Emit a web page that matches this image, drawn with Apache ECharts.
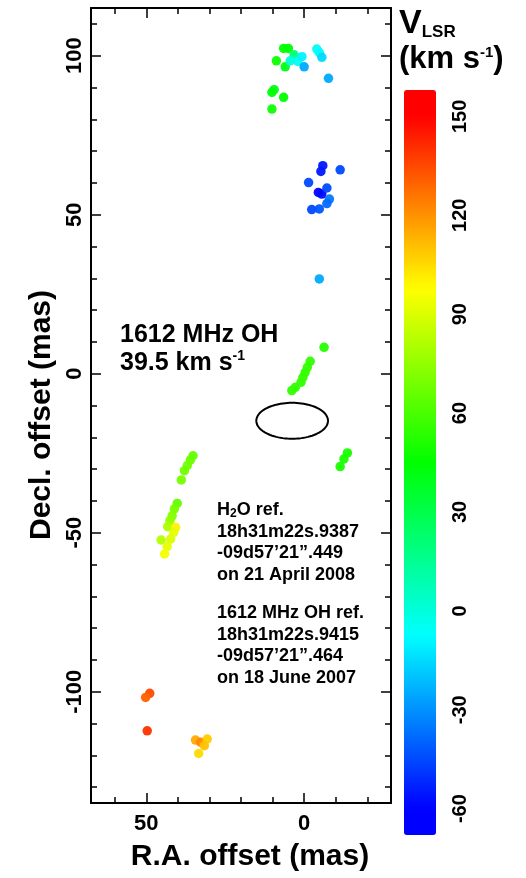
<!DOCTYPE html>
<html><head><meta charset="utf-8">
<script src="https://cdn.jsdelivr.net/npm/echarts@6/dist/echarts.min.js"></script>
<style>html,body{margin:0;padding:0;background:#fff}#c{width:526px;height:878px}</style>
</head><body><div id="c"></div>
<script>
// R.A. offset (mas), Decl. offset (mas), V_LSR (km/s)
const raOffset = [6.5, 5.0, 8.8, 6.0, 3.2, 4.4, 2.0, 0.7, 0.0, -4.0, -4.8, -5.6, -7.7, 10.2, 9.5, 6.5, 10.2,
  -5.9, -5.3, -11.4, -1.4, -4.5, -5.6, -7.2, -8.0, -7.2, -2.4, -4.8, -4.8,
  -6.3, -1.9, -1.0, -0.3, 0.4, 1.0, 2.8, 3.9, -13.7, -12.6, -11.4,
  35.2, 36.0, 37.0, 37.9, 38.9, 40.2, 41.1, 41.8, 42.5, 43.2, 40.7, 41.3, 45.3, 42.3, 43.4, 44.2,
  48.9, 50.2, 49.7, 34.4, 32.8, 30.7, 31.6, 33.4];
const declOffset = [102.3, 102.3, 98.4, 96.5, 100.3, 98.4, 98.2, 99.7, 96.5, 102.1, 101.0, 99.5, 92.9, 88.5, 89.3, 86.9, 83.2,
  65.4, 63.6, 64.1, 60.1, 57.0, 56.5, 58.4, 54.9, 53.5, 51.6, 51.8, 29.8,
  8.3, 3.9, 2.0, 0.4, -1.2, -2.7, -4.3, -5.3, -24.9, -26.8, -29.2,
  -25.8, -27.1, -28.9, -30.5, -33.4, -40.8, -42.5, -44.7, -46.2, -48.1, -48.3, -49.9, -52.3, -52.0, -54.4, -56.7,
  -100.5, -101.8, -112.3, -115.2, -115.9, -114.9, -117.0, -119.4];
const vlsr = [45, 45, 48, 40, 20, 0, -5, -10, -25, -5, -8, -15, -25, 45, 42, 45, 48,
  -55, -55, -45, -45, -60, -58, -45, -35, -38, -45, -42, -25,
  52, 55, 55, 55, 55, 55, 55, 55, 50, 50, 50,
  65, 67, 68, 68, 70, 65, 70, 72, 75, 80, 100, 92, 82, 90, 92, 95,
  135, 130, 140, 115, 122, 108, 110, 105];

const xMajorTicks = [0, 50];
const xMinorTicks = [-20, -10, 10, 20, 30, 40, 60];
const yMajorTicks = [-100, -50, 0, 50, 100];
const yMinorTicks = [-130, -120, -110, -90, -80, -70, -60, -40, -30, -20, -10, 10, 20, 30, 40, 60, 70, 80, 90, 110];
const colorbarTicks = [-60, -30, 0, 30, 60, 90, 120, 150];
const beamCenter = [3.8, -14.8];
const beamAxes = [22.7, 11.3];

const FONT = "'Liberation Sans', Arial, Helvetica, sans-serif";

function hsvToHex(h) {
  const c = 1, x = 1 - Math.abs((h / 60) % 2 - 1);
  let r, g, b;
  if (h < 60) [r, g, b] = [c, x, 0];
  else if (h < 120) [r, g, b] = [x, c, 0];
  else if (h < 180) [r, g, b] = [0, c, x];
  else [r, g, b] = [0, x, c];
  const f = v => Math.round(v * 255).toString(16).padStart(2, '0');
  return '#' + f(r) + f(g) + f(b);
}
const VMIN = -68, VMAX = 158;
const rainbow = [];
for (let i = 0; i <= 60; i++) {
  const v = VMIN + (VMAX - VMIN) * i / 60;
  const h = Math.max(0, Math.min(239.9, (150 - v) / 210 * 240));
  rainbow.push(hsvToHex(h));
}

const points = raOffset.map((x, i) => [x, declOffset[i], vlsr[i]]);

const tickLabel = { fontFamily: FONT, fontWeight: 'bold', fontSize: 22, color: '#000' };
const lineStyle = { color: '#000', width: 2 };

function xAxisDef(pos, major, showLabel) {
  return {
    type: 'value', gridIndex: 0, position: pos, min: -27.5, max: 67.5, inverse: true,
    splitLine: { show: false },
    axisLine: { show: major, onZero: false, lineStyle },
    axisTick: { show: true, inside: true, length: major ? 10 : 6, customValues: major ? xMajorTicks : xMinorTicks, lineStyle: { color: '#000', width: 1.5 } },
    axisLabel: { show: showLabel, customValues: xMajorTicks, margin: 10, ...tickLabel }
  };
}
function yAxisDef(pos, major, showLabel) {
  return {
    type: 'value', gridIndex: 0, position: pos, min: -135, max: 115,
    splitLine: { show: false },
    axisLine: { show: major, onZero: false, lineStyle },
    axisTick: { show: true, inside: true, length: major ? 10 : 6, customValues: major ? yMajorTicks : yMinorTicks, lineStyle: { color: '#000', width: 1.5 } },
    axisLabel: { show: showLabel, customValues: yMajorTicks, rotate: 90, margin: 5, ...tickLabel }
  };
}

const chart = echarts.init(document.getElementById('c'), null, { renderer: 'canvas' });
chart.setOption({
  backgroundColor: '#fff',
  animation: false,
  grid: [
    { left: 91, top: 8, width: 300, height: 795 },
    { left: 404, top: 90, width: 32, height: 745 }
  ],
  xAxis: [
    xAxisDef('bottom', true, true),
    xAxisDef('bottom', false, false),
    xAxisDef('top', true, false),
    xAxisDef('top', false, false),
    { type: 'value', gridIndex: 1, min: 0, max: 1, show: false }
  ],
  yAxis: [
    yAxisDef('left', true, true),
    yAxisDef('left', false, false),
    yAxisDef('right', true, false),
    yAxisDef('right', false, false),
    {
      type: 'value', gridIndex: 1, position: 'right', min: VMIN, max: VMAX,
      splitLine: { show: false }, axisLine: { show: false }, axisTick: { show: false },
      axisLabel: { customValues: colorbarTicks, rotate: 90, margin: 14, fontFamily: FONT, fontWeight: 'bold', fontSize: 20, color: '#000' }
    }
  ],
  visualMap: {
    type: 'continuous', seriesIndex: 0, dimension: 2, min: VMIN, max: VMAX,
    calculable: false, hoverLink: false, orient: 'vertical',
    left: 404, top: 90, itemWidth: 32, itemHeight: 745, padding: 0,
    text: null, showLabel: false,
    inRange: { color: rainbow }
  },
  series: [
    {
      type: 'scatter', xAxisIndex: 0, yAxisIndex: 0, data: points,
      symbolSize: 9.5, itemStyle: { opacity: 0.95 }, z: 3
    },
    {
      type: 'custom', xAxisIndex: 0, yAxisIndex: 0, silent: true, z: 4,
      data: [[beamCenter[0], beamCenter[1], beamAxes[0], beamAxes[1]]],
      renderItem: function (params, api) {
        const cx = api.value(0), cy = api.value(1), a = api.value(2) / 2, b = api.value(3) / 2;
        const pts = [];
        for (let k = 0; k < 96; k++) {
          const t = k / 96 * 2 * Math.PI;
          pts.push(api.coord([cx + a * Math.cos(t), cy + b * Math.sin(t)]));
        }
        return { type: 'polygon', shape: { points: pts }, style: { fill: 'none', stroke: '#000', lineWidth: 2 } };
      }
    },
    { type: 'scatter', xAxisIndex: 4, yAxisIndex: 4, data: [], silent: true }
  ],
  graphic: [
    { type: 'text', x: 250, y: 857, style: { text: 'R.A. offset (mas)', font: 'bold 30px ' + FONT, fill: '#000', align: 'center', verticalAlign: 'middle' } },
    { type: 'text', x: 42, y: 415, rotation: Math.PI / 2, style: { text: 'Decl. offset (mas)', font: 'bold 30px ' + FONT, fill: '#000', align: 'center', verticalAlign: 'middle' } },
    { type: 'text', top: 323, left: 120, style: {
        text: '{a|1612 MHz OH}\n{a|39.5 km s}{s|-1}',
        rich: { a: { font: 'bold 25px ' + FONT, fill: '#000', lineHeight: 28 }, s: { font: 'bold 14px ' + FONT, fill: '#000', verticalAlign: 'top', lineHeight: 28, padding: [0, 0, 10, 0] } } } },
    { type: 'text', left: 217, top: 499, style: {
        text: 'H{sb|2}O ref.\n18h31m22s.9387\n-09d57\u201921\u201d.449\non 21 April 2008',
        font: 'bold 18px ' + FONT, fill: '#000', lineHeight: 21.7,
        rich: { sb: { font: 'bold 12px ' + FONT, fill: '#000', padding: [8, 0, 0, 0] } } } },
    { type: 'text', left: 217, top: 602, style: {
        text: '1612 MHz OH ref.\n18h31m22s.9415\n-09d57\u201921\u201d.464\non 18 June 2007',
        font: 'bold 18px ' + FONT, fill: '#000', lineHeight: 21.7 } },
    { type: 'text', left: 399, top: 6, style: {
        text: '{v|V}{sb|LSR}\n{t|(km s}{sp|-1}{t|)}',
        rich: {
          v: { font: 'bold 34px ' + FONT, fill: '#000', lineHeight: 38 },
          sb: { font: 'bold 17px ' + FONT, fill: '#000', padding: [18, 0, 0, 0], lineHeight: 38 },
          t: { font: 'bold 31px ' + FONT, fill: '#000', lineHeight: 34 },
          sp: { font: 'bold 15px ' + FONT, fill: '#000', padding: [0, 0, 13, 0], lineHeight: 34 }
        } } }
  ]
});
</script>
</body></html>
